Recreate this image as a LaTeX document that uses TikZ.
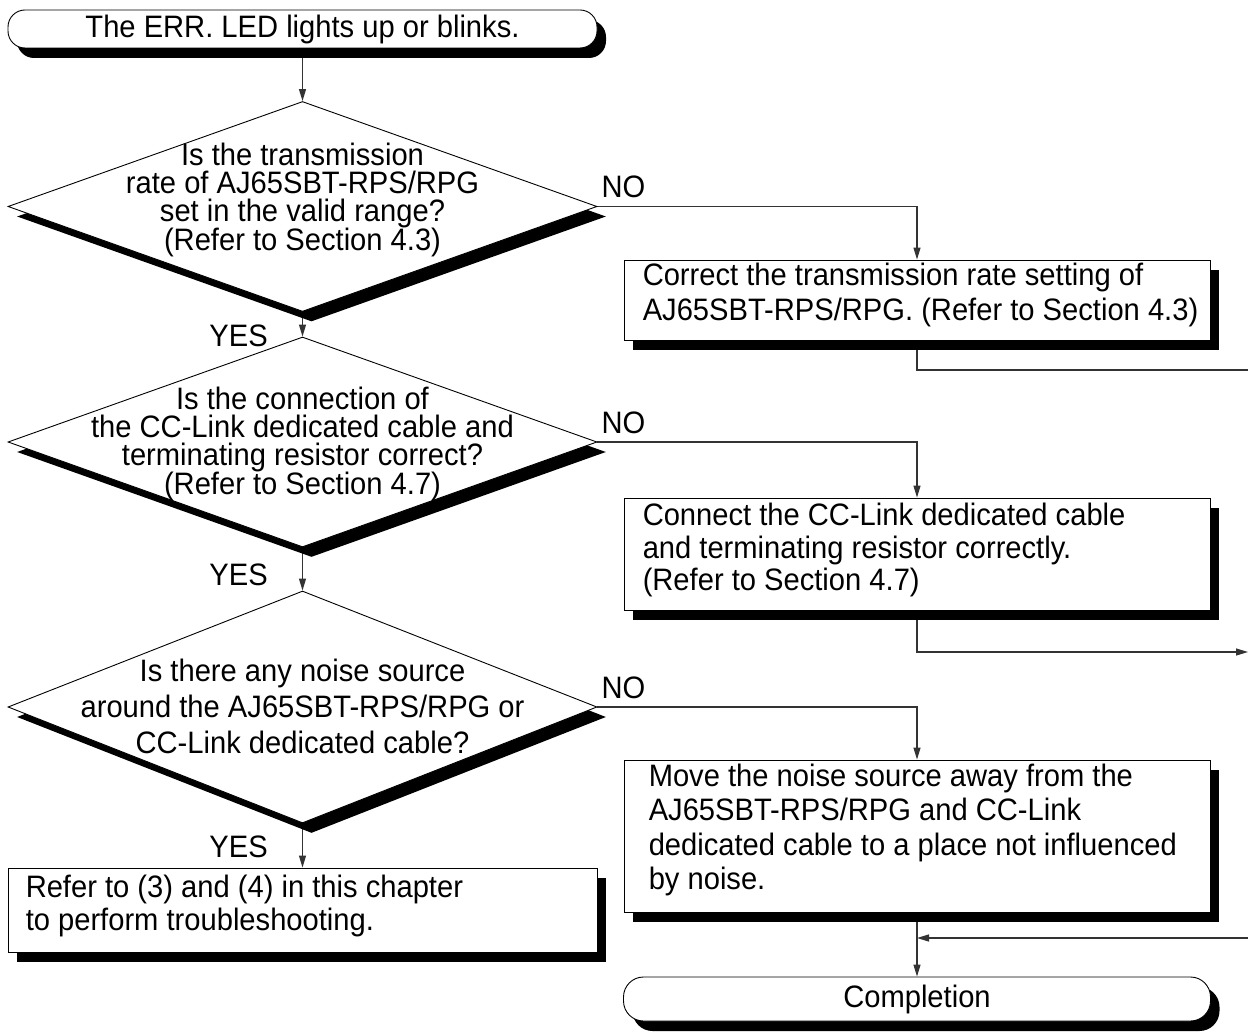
\documentclass[tikz,border=0pt]{standalone}
\usepackage{fontspec}
\setmainfont{Liberation Sans}[FakeStretch=0.94]
\usetikzlibrary{shapes.geometric,shadows,arrows.meta,calc,positioning}
\pgfdeclarelayer{bg}
\pgfsetlayers{bg,main}
\tikzset{
  shad/.style={drop shadow={shadow xshift=9pt,shadow yshift=-10pt,opacity=1,fill=black}},
  term/.style={rectangle, draw, line width=0.9pt, fill=white, rounded corners=17pt, shad, inner sep=0pt,
    font=\fontsize{31}{31}\selectfont},
  dec/.style={diamond, draw, line width=0.9pt, fill=white, shad, inner sep=0pt},
  proc/.style={rectangle, draw, line width=0.9pt, fill=white, shad, inner sep=0pt},
  dtxt/.style={align=center, inner sep=0pt, font=\fontsize{31}{28}\selectfont},
  btxt/.style={align=left, inner sep=0pt, font=\fontsize{31}{34.5}\selectfont},
  lbl/.style={inner sep=0pt, font=\fontsize{31}{31}\selectfont},
  conn/.style={line width=1.2pt, draw=black!80},
  arr/.style={conn, -{Triangle[length=12pt,width=7pt]}}
}
\begin{document}
\begin{tikzpicture}[x=1pt,y=-1pt]
\useasboundingbox (0,0) rectangle (1248,1035);
\clip (0,0) rectangle (1248,1035);

% left column
\node[term, minimum width=589pt, minimum height=38pt] (t1) at (302.5,29) {The ERR. LED lights up or blinks.};

\node[dec, minimum width=589pt, minimum height=210pt] (d1) at (302.5,206.5) {};
\node[dtxt] (d1t) at (302.5,200) {Is the transmission\\rate of AJ65SBT-RPS/RPG\\set in the valid range?\\(Refer to Section 4.3)};

\node[dec, minimum width=589pt, minimum height=210pt] (d2) at (302.5,442) {};
\node[dtxt] (d2t) at (302.5,444) {Is the connection of\\the CC-Link dedicated cable and\\terminating resistor correct?\\(Refer to Section 4.7)};

\node[dec, minimum width=589pt, minimum height=232pt] (d3) at (302.5,707) {};
\node[dtxt, font=\fontsize{31}{36}\selectfont] (d3t) at (302.5,706) {Is there any noise source\\around the AJ65SBT-RPS/RPG or\\CC-Link dedicated cable?};

\node[proc, minimum width=589pt, minimum height=84pt] (L) at (302.5,910) {};
\node[btxt, font=\fontsize{31}{32.5}\selectfont, right=18pt of L.west, anchor=west, yshift=4pt] (Lt) {Refer to (3) and (4) in this chapter\\to perform troubleshooting.};

% right column
\node[proc, minimum width=586pt, minimum height=80pt] (b1) at (917,300) {};
\node[btxt, right=19pt of b1.west, anchor=west, yshift=5pt] (b1t) {Correct the transmission rate setting of\\AJ65SBT-RPS/RPG. (Refer to Section 4.3)};

\node[proc, minimum width=586pt, minimum height=112pt] (b2) at (917,554) {};
\node[btxt, font=\fontsize{31}{32.5}\selectfont, right=19pt of b2.west, anchor=west, yshift=4pt] (b2t) {Connect the CC-Link dedicated cable\\and terminating resistor correctly.\\(Refer to Section 4.7)};

\node[proc, minimum width=586pt, minimum height=152pt] (b3) at (917,836) {};
\node[btxt, right=25pt of b3.west, anchor=west, yshift=6pt] (b3t) {Move the noise source away from the\\AJ65SBT-RPS/RPG and CC-Link\\dedicated cable to a place not influenced\\by noise.};

\node[term, minimum width=587pt, minimum height=44pt, rounded corners=20pt] (c) at (917,999) {Completion};

% labels
\node[lbl, anchor=south west] (no1) at ($(d1.east)+(4,-8)$) {NO};
\node[lbl, anchor=south west] (no2) at ($(d2.east)+(4,-8)$) {NO};
\node[lbl, anchor=south west] (no3) at ($(d3.east)+(4,-8)$) {NO};
\node[lbl, anchor=south east] (y1) at (268,347) {YES};
\node[lbl, anchor=south east] (y2) at (268,586) {YES};
\node[lbl, anchor=south east] (y3) at (268,858) {YES};

\coordinate (e1) at (1248,370);
\coordinate (e2) at (1248,652);
\coordinate (e3) at (1248,938);

\begin{pgfonlayer}{bg}
\draw[arr] (t1.south) -- (d1.north);
\draw[arr] (d1.south) -- (d2.north);
\draw[arr] (d2.south) -- (d3.north);
\draw[arr] (d3.south) -- (L.north);
\draw[arr] (d1.east) -| (b1.north);
\draw[arr] (d2.east) -| (b2.north);
\draw[arr] (d3.east) -| (b3.north);
\draw[conn] (b1.south) |- (e1);
\draw[arr] (b2.south) |- (e2);
\draw[arr] (e3) -- (b3.south |- e3);
\draw[arr] (b3.south) -- (c.north);
\end{pgfonlayer}
\end{tikzpicture}
\end{document}
